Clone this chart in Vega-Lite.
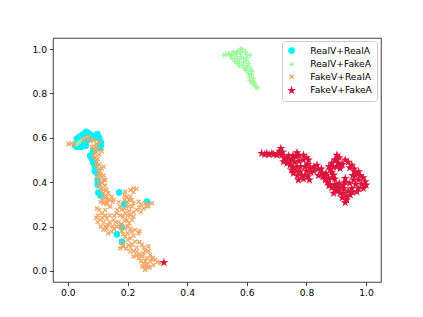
{"$schema":"https://vega.github.io/schema/vega-lite/v6.json","width":328,"height":244,"autosize":"none","padding":{"left":53,"top":38,"right":42,"bottom":35},"background":"white",
"config":{"view":{"stroke":"#000","strokeWidth":0.75},"font":"DejaVu Sans"},
"data":{"values":[
{"s":"RealV+RealA","x":0.061,"y":0.627},{"s":"RealV+RealA","x":0.039,"y":0.605},{"s":"RealV+RealA","x":0.099,"y":0.617},{"s":"RealV+RealA","x":0.05,"y":0.615},{"s":"RealV+RealA","x":0.08,"y":0.61},{"s":"RealV+RealA","x":0.024,"y":0.567},{"s":"RealV+RealA","x":0.045,"y":0.57},{"s":"RealV+RealA","x":0.06,"y":0.58},{"s":"RealV+RealA","x":0.106,"y":0.553},{"s":"RealV+RealA","x":0.08,"y":0.508},{"s":"RealV+RealA","x":0.085,"y":0.54},{"s":"RealV+RealA","x":0.097,"y":0.44},{"s":"RealV+RealA","x":0.172,"y":0.354},{"s":"RealV+RealA","x":0.265,"y":0.312},{"s":"RealV+RealA","x":0.164,"y":0.165},{"s":"RealV+RealA","x":0.181,"y":0.197},{"s":"RealV+RealA","x":0.181,"y":0.132},{"s":"RealV+RealA","x":0.102,"y":0.353},{"s":"RealV+RealA","x":0.189,"y":0.302},{"s":"RealV+RealA","x":0.03,"y":0.595},{"s":"RealV+RealA","x":0.07,"y":0.62},{"s":"RealV+RealA","x":0.09,"y":0.6},{"s":"RealV+RealA","x":0.105,"y":0.6},{"s":"RealV+RealA","x":0.11,"y":0.58},{"s":"RealV+RealA","x":0.11,"y":0.565},{"s":"RealV+RealA","x":0.03,"y":0.56},{"s":"RealV+RealA","x":0.045,"y":0.56},{"s":"RealV+RealA","x":0.06,"y":0.565},{"s":"RealV+RealA","x":0.075,"y":0.595},{"s":"RealV+RealA","x":0.075,"y":0.52},{"s":"RealV+RealA","x":0.085,"y":0.49},{"s":"RealV+RealA","x":0.09,"y":0.475},{"s":"RealV+RealA","x":0.09,"y":0.45},{"s":"RealV+RealA","x":0.1,"y":0.41},{"s":"RealV+RealA","x":0.1,"y":0.39},{"s":"RealV+RealA","x":0.11,"y":0.34},
{"s":"RealV+FakeA","x":0.522,"y":0.973},{"s":"RealV+FakeA","x":0.539,"y":0.98},{"s":"RealV+FakeA","x":0.555,"y":0.988},{"s":"RealV+FakeA","x":0.578,"y":1.0},{"s":"RealV+FakeA","x":0.595,"y":0.988},{"s":"RealV+FakeA","x":0.611,"y":0.973},{"s":"RealV+FakeA","x":0.567,"y":0.965},{"s":"RealV+FakeA","x":0.589,"y":0.958},{"s":"RealV+FakeA","x":0.55,"y":0.958},{"s":"RealV+FakeA","x":0.567,"y":0.935},{"s":"RealV+FakeA","x":0.583,"y":0.928},{"s":"RealV+FakeA","x":0.606,"y":0.935},{"s":"RealV+FakeA","x":0.6,"y":0.905},{"s":"RealV+FakeA","x":0.617,"y":0.898},{"s":"RealV+FakeA","x":0.609,"y":0.875},{"s":"RealV+FakeA","x":0.622,"y":0.868},{"s":"RealV+FakeA","x":0.617,"y":0.845},{"s":"RealV+FakeA","x":0.628,"y":0.838},{"s":"RealV+FakeA","x":0.636,"y":0.825},{"s":"RealV+FakeA","x":0.574,"y":0.95},{"s":"RealV+FakeA","x":0.578,"y":0.98},{"s":"RealV+FakeA","x":0.597,"y":0.948},{"s":"RealV+FakeA","x":0.59,"y":0.915},{"s":"RealV+FakeA","x":0.035,"y":0.578},{"s":"RealV+FakeA","x":0.042,"y":0.585},{"s":"RealV+FakeA","x":0.03,"y":0.572},{"s":"RealV+FakeA","x":0.53,"y":0.975},{"s":"RealV+FakeA","x":0.545,"y":0.97},{"s":"RealV+FakeA","x":0.56,"y":0.975},{"s":"RealV+FakeA","x":0.57,"y":0.99},{"s":"RealV+FakeA","x":0.585,"y":0.99},{"s":"RealV+FakeA","x":0.6,"y":0.975},{"s":"RealV+FakeA","x":0.56,"y":0.955},{"s":"RealV+FakeA","x":0.58,"y":0.965},{"s":"RealV+FakeA","x":0.6,"y":0.96},{"s":"RealV+FakeA","x":0.56,"y":0.945},{"s":"RealV+FakeA","x":0.575,"y":0.94},{"s":"RealV+FakeA","x":0.59,"y":0.94},{"s":"RealV+FakeA","x":0.6,"y":0.925},{"s":"RealV+FakeA","x":0.575,"y":0.925},{"s":"RealV+FakeA","x":0.61,"y":0.915},{"s":"RealV+FakeA","x":0.595,"y":0.905},{"s":"RealV+FakeA","x":0.605,"y":0.89},{"s":"RealV+FakeA","x":0.615,"y":0.885},{"s":"RealV+FakeA","x":0.61,"y":0.86},{"s":"RealV+FakeA","x":0.62,"y":0.855},{"s":"RealV+FakeA","x":0.625,"y":0.85},{"s":"RealV+FakeA","x":0.63,"y":0.83},{"s":"RealV+FakeA","x":0.615,"y":0.905},{"s":"RealV+FakeA","x":0.565,"y":0.985},{"s":"RealV+FakeA","x":0.55,"y":0.975},{"s":"RealV+FakeA","x":0.585,"y":1.0},
{"s":"FakeV+RealA","x":0.002,"y":0.572},{"s":"FakeV+RealA","x":0.052,"y":0.59},{"s":"FakeV+RealA","x":0.069,"y":0.605},{"s":"FakeV+RealA","x":0.086,"y":0.59},{"s":"FakeV+RealA","x":0.103,"y":0.582},{"s":"FakeV+RealA","x":0.08,"y":0.56},{"s":"FakeV+RealA","x":0.091,"y":0.545},{"s":"FakeV+RealA","x":0.114,"y":0.54},{"s":"FakeV+RealA","x":0.086,"y":0.522},{"s":"FakeV+RealA","x":0.097,"y":0.492},{"s":"FakeV+RealA","x":0.114,"y":0.462},{"s":"FakeV+RealA","x":0.102,"y":0.447},{"s":"FakeV+RealA","x":0.097,"y":0.425},{"s":"FakeV+RealA","x":0.125,"y":0.41},{"s":"FakeV+RealA","x":0.108,"y":0.387},{"s":"FakeV+RealA","x":0.13,"y":0.365},{"s":"FakeV+RealA","x":0.119,"y":0.35},{"s":"FakeV+RealA","x":0.147,"y":0.335},{"s":"FakeV+RealA","x":0.22,"y":0.372},{"s":"FakeV+RealA","x":0.192,"y":0.357},{"s":"FakeV+RealA","x":0.209,"y":0.335},{"s":"FakeV+RealA","x":0.108,"y":0.44},{"s":"FakeV+RealA","x":0.119,"y":0.41},{"s":"FakeV+RealA","x":0.103,"y":0.38},{"s":"FakeV+RealA","x":0.131,"y":0.32},{"s":"FakeV+RealA","x":0.153,"y":0.32},{"s":"FakeV+RealA","x":0.119,"y":0.305},{"s":"FakeV+RealA","x":0.142,"y":0.29},{"s":"FakeV+RealA","x":0.097,"y":0.282},{"s":"FakeV+RealA","x":0.164,"y":0.26},{"s":"FakeV+RealA","x":0.114,"y":0.26},{"s":"FakeV+RealA","x":0.108,"y":0.23},{"s":"FakeV+RealA","x":0.131,"y":0.237},{"s":"FakeV+RealA","x":0.153,"y":0.23},{"s":"FakeV+RealA","x":0.136,"y":0.207},{"s":"FakeV+RealA","x":0.164,"y":0.2},{"s":"FakeV+RealA","x":0.119,"y":0.185},{"s":"FakeV+RealA","x":0.147,"y":0.177},{"s":"FakeV+RealA","x":0.198,"y":0.335},{"s":"FakeV+RealA","x":0.214,"y":0.32},{"s":"FakeV+RealA","x":0.237,"y":0.312},{"s":"FakeV+RealA","x":0.259,"y":0.305},{"s":"FakeV+RealA","x":0.282,"y":0.305},{"s":"FakeV+RealA","x":0.203,"y":0.29},{"s":"FakeV+RealA","x":0.231,"y":0.275},{"s":"FakeV+RealA","x":0.254,"y":0.282},{"s":"FakeV+RealA","x":0.209,"y":0.252},{"s":"FakeV+RealA","x":0.192,"y":0.26},{"s":"FakeV+RealA","x":0.175,"y":0.29},{"s":"FakeV+RealA","x":0.198,"y":0.23},{"s":"FakeV+RealA","x":0.214,"y":0.23},{"s":"FakeV+RealA","x":0.192,"y":0.192},{"s":"FakeV+RealA","x":0.214,"y":0.177},{"s":"FakeV+RealA","x":0.237,"y":0.17},{"s":"FakeV+RealA","x":0.192,"y":0.155},{"s":"FakeV+RealA","x":0.209,"y":0.147},{"s":"FakeV+RealA","x":0.186,"y":0.11},{"s":"FakeV+RealA","x":0.203,"y":0.117},{"s":"FakeV+RealA","x":0.226,"y":0.132},{"s":"FakeV+RealA","x":0.248,"y":0.117},{"s":"FakeV+RealA","x":0.27,"y":0.11},{"s":"FakeV+RealA","x":0.209,"y":0.087},{"s":"FakeV+RealA","x":0.231,"y":0.087},{"s":"FakeV+RealA","x":0.254,"y":0.08},{"s":"FakeV+RealA","x":0.276,"y":0.072},{"s":"FakeV+RealA","x":0.293,"y":0.05},{"s":"FakeV+RealA","x":0.31,"y":0.035},{"s":"FakeV+RealA","x":0.254,"y":0.035},{"s":"FakeV+RealA","x":0.27,"y":0.02},{"s":"FakeV+RealA","x":0.259,"y":0.005},{"s":"FakeV+RealA","x":0.287,"y":0.027},{"s":"FakeV+RealA","x":0.22,"y":0.065},{"s":"FakeV+RealA","x":0.237,"y":0.057},{"s":"FakeV+RealA","x":0.276,"y":0.042},{"s":"FakeV+RealA","x":0.265,"y":0.057},{"s":"FakeV+RealA","x":0.175,"y":0.102},{"s":"FakeV+RealA","x":0.02,"y":0.57},{"s":"FakeV+RealA","x":0.012,"y":0.575},{"s":"FakeV+RealA","x":0.06,"y":0.598},{"s":"FakeV+RealA","x":0.075,"y":0.585},{"s":"FakeV+RealA","x":0.095,"y":0.572},{"s":"FakeV+RealA","x":0.09,"y":0.56},{"s":"FakeV+RealA","x":0.1,"y":0.55},{"s":"FakeV+RealA","x":0.092,"y":0.53},{"s":"FakeV+RealA","x":0.105,"y":0.525},{"s":"FakeV+RealA","x":0.09,"y":0.51},{"s":"FakeV+RealA","x":0.1,"y":0.505},{"s":"FakeV+RealA","x":0.105,"y":0.48},{"s":"FakeV+RealA","x":0.095,"y":0.475},{"s":"FakeV+RealA","x":0.12,"y":0.47},{"s":"FakeV+RealA","x":0.105,"y":0.46},{"s":"FakeV+RealA","x":0.11,"y":0.43},{"s":"FakeV+RealA","x":0.12,"y":0.43},{"s":"FakeV+RealA","x":0.105,"y":0.41},{"s":"FakeV+RealA","x":0.115,"y":0.395},{"s":"FakeV+RealA","x":0.125,"y":0.385},{"s":"FakeV+RealA","x":0.11,"y":0.37},{"s":"FakeV+RealA","x":0.12,"y":0.365},{"s":"FakeV+RealA","x":0.135,"y":0.35},{"s":"FakeV+RealA","x":0.13,"y":0.335},{"s":"FakeV+RealA","x":0.14,"y":0.32},{"s":"FakeV+RealA","x":0.125,"y":0.33},{"s":"FakeV+RealA","x":0.115,"y":0.32},{"s":"FakeV+RealA","x":0.11,"y":0.31},{"s":"FakeV+RealA","x":0.13,"y":0.31},{"s":"FakeV+RealA","x":0.15,"y":0.31},{"s":"FakeV+RealA","x":0.17,"y":0.31},{"s":"FakeV+RealA","x":0.13,"y":0.3},{"s":"FakeV+RealA","x":0.105,"y":0.275},{"s":"FakeV+RealA","x":0.125,"y":0.275},{"s":"FakeV+RealA","x":0.165,"y":0.275},{"s":"FakeV+RealA","x":0.18,"y":0.275},{"s":"FakeV+RealA","x":0.1,"y":0.25},{"s":"FakeV+RealA","x":0.125,"y":0.25},{"s":"FakeV+RealA","x":0.14,"y":0.25},{"s":"FakeV+RealA","x":0.155,"y":0.25},{"s":"FakeV+RealA","x":0.175,"y":0.25},{"s":"FakeV+RealA","x":0.095,"y":0.24},{"s":"FakeV+RealA","x":0.115,"y":0.24},{"s":"FakeV+RealA","x":0.1,"y":0.22},{"s":"FakeV+RealA","x":0.12,"y":0.22},{"s":"FakeV+RealA","x":0.14,"y":0.22},{"s":"FakeV+RealA","x":0.16,"y":0.22},{"s":"FakeV+RealA","x":0.17,"y":0.22},{"s":"FakeV+RealA","x":0.11,"y":0.2},{"s":"FakeV+RealA","x":0.125,"y":0.2},{"s":"FakeV+RealA","x":0.15,"y":0.2},{"s":"FakeV+RealA","x":0.175,"y":0.2},{"s":"FakeV+RealA","x":0.13,"y":0.19},{"s":"FakeV+RealA","x":0.155,"y":0.19},{"s":"FakeV+RealA","x":0.135,"y":0.17},{"s":"FakeV+RealA","x":0.21,"y":0.365},{"s":"FakeV+RealA","x":0.23,"y":0.37},{"s":"FakeV+RealA","x":0.22,"y":0.355},{"s":"FakeV+RealA","x":0.19,"y":0.34},{"s":"FakeV+RealA","x":0.205,"y":0.32},{"s":"FakeV+RealA","x":0.19,"y":0.32},{"s":"FakeV+RealA","x":0.2,"y":0.31},{"s":"FakeV+RealA","x":0.22,"y":0.305},{"s":"FakeV+RealA","x":0.245,"y":0.3},{"s":"FakeV+RealA","x":0.27,"y":0.295},{"s":"FakeV+RealA","x":0.215,"y":0.29},{"s":"FakeV+RealA","x":0.24,"y":0.285},{"s":"FakeV+RealA","x":0.19,"y":0.28},{"s":"FakeV+RealA","x":0.205,"y":0.27},{"s":"FakeV+RealA","x":0.22,"y":0.265},{"s":"FakeV+RealA","x":0.245,"y":0.265},{"s":"FakeV+RealA","x":0.265,"y":0.29},{"s":"FakeV+RealA","x":0.2,"y":0.25},{"s":"FakeV+RealA","x":0.22,"y":0.245},{"s":"FakeV+RealA","x":0.185,"y":0.245},{"s":"FakeV+RealA","x":0.19,"y":0.225},{"s":"FakeV+RealA","x":0.205,"y":0.215},{"s":"FakeV+RealA","x":0.18,"y":0.21},{"s":"FakeV+RealA","x":0.2,"y":0.2},{"s":"FakeV+RealA","x":0.21,"y":0.19},{"s":"FakeV+RealA","x":0.225,"y":0.185},{"s":"FakeV+RealA","x":0.24,"y":0.18},{"s":"FakeV+RealA","x":0.18,"y":0.18},{"s":"FakeV+RealA","x":0.2,"y":0.17},{"s":"FakeV+RealA","x":0.22,"y":0.16},{"s":"FakeV+RealA","x":0.185,"y":0.165},{"s":"FakeV+RealA","x":0.2,"y":0.14},{"s":"FakeV+RealA","x":0.18,"y":0.125},{"s":"FakeV+RealA","x":0.215,"y":0.12},{"s":"FakeV+RealA","x":0.195,"y":0.1},{"s":"FakeV+RealA","x":0.21,"y":0.105},{"s":"FakeV+RealA","x":0.23,"y":0.105},{"s":"FakeV+RealA","x":0.24,"y":0.13},{"s":"FakeV+RealA","x":0.255,"y":0.105},{"s":"FakeV+RealA","x":0.22,"y":0.09},{"s":"FakeV+RealA","x":0.24,"y":0.075},{"s":"FakeV+RealA","x":0.26,"y":0.09},{"s":"FakeV+RealA","x":0.25,"y":0.065},{"s":"FakeV+RealA","x":0.27,"y":0.09},{"s":"FakeV+RealA","x":0.285,"y":0.06},{"s":"FakeV+RealA","x":0.23,"y":0.07},{"s":"FakeV+RealA","x":0.26,"y":0.045},{"s":"FakeV+RealA","x":0.245,"y":0.045},{"s":"FakeV+RealA","x":0.265,"y":0.03},{"s":"FakeV+RealA","x":0.28,"y":0.055},{"s":"FakeV+RealA","x":0.3,"y":0.04},{"s":"FakeV+RealA","x":0.275,"y":0.015},{"s":"FakeV+RealA","x":0.25,"y":0.02},{"s":"FakeV+RealA","x":0.26,"y":0.015},
{"s":"FakeV+FakeA","x":0.322,"y":0.038},{"s":"FakeV+FakeA","x":0.65,"y":0.53},{"s":"FakeV+FakeA","x":0.667,"y":0.53},{"s":"FakeV+FakeA","x":0.684,"y":0.53},{"s":"FakeV+FakeA","x":0.701,"y":0.522},{"s":"FakeV+FakeA","x":0.714,"y":0.552},{"s":"FakeV+FakeA","x":0.717,"y":0.522},{"s":"FakeV+FakeA","x":0.734,"y":0.507},{"s":"FakeV+FakeA","x":0.751,"y":0.507},{"s":"FakeV+FakeA","x":0.768,"y":0.533},{"s":"FakeV+FakeA","x":0.79,"y":0.522},{"s":"FakeV+FakeA","x":0.807,"y":0.5},{"s":"FakeV+FakeA","x":0.723,"y":0.492},{"s":"FakeV+FakeA","x":0.745,"y":0.477},{"s":"FakeV+FakeA","x":0.768,"y":0.47},{"s":"FakeV+FakeA","x":0.756,"y":0.44},{"s":"FakeV+FakeA","x":0.779,"y":0.447},{"s":"FakeV+FakeA","x":0.796,"y":0.432},{"s":"FakeV+FakeA","x":0.81,"y":0.41},{"s":"FakeV+FakeA","x":0.773,"y":0.41},{"s":"FakeV+FakeA","x":0.812,"y":0.462},{"s":"FakeV+FakeA","x":0.835,"y":0.477},{"s":"FakeV+FakeA","x":0.852,"y":0.44},{"s":"FakeV+FakeA","x":0.863,"y":0.41},{"s":"FakeV+FakeA","x":0.88,"y":0.387},{"s":"FakeV+FakeA","x":0.902,"y":0.522},{"s":"FakeV+FakeA","x":0.885,"y":0.485},{"s":"FakeV+FakeA","x":0.908,"y":0.485},{"s":"FakeV+FakeA","x":0.93,"y":0.5},{"s":"FakeV+FakeA","x":0.952,"y":0.477},{"s":"FakeV+FakeA","x":0.975,"y":0.447},{"s":"FakeV+FakeA","x":0.997,"y":0.402},{"s":"FakeV+FakeA","x":1.0,"y":0.387},{"s":"FakeV+FakeA","x":0.991,"y":0.372},{"s":"FakeV+FakeA","x":0.969,"y":0.357},{"s":"FakeV+FakeA","x":0.947,"y":0.342},{"s":"FakeV+FakeA","x":0.93,"y":0.308},{"s":"FakeV+FakeA","x":0.913,"y":0.35},{"s":"FakeV+FakeA","x":0.891,"y":0.35},{"s":"FakeV+FakeA","x":0.874,"y":0.417},{"s":"FakeV+FakeA","x":0.88,"y":0.455},{"s":"FakeV+FakeA","x":0.958,"y":0.41},{"s":"FakeV+FakeA","x":0.975,"y":0.41},{"s":"FakeV+FakeA","x":0.952,"y":0.372},{"s":"FakeV+FakeA","x":0.924,"y":0.387},{"s":"FakeV+FakeA","x":0.902,"y":0.38},{"s":"FakeV+FakeA","x":0.935,"y":0.335},{"s":"FakeV+FakeA","x":0.891,"y":0.432},{"s":"FakeV+FakeA","x":0.93,"y":0.417},{"s":"FakeV+FakeA","x":0.913,"y":0.462},{"s":"FakeV+FakeA","x":0.963,"y":0.447},{"s":"FakeV+FakeA","x":0.66,"y":0.525},{"s":"FakeV+FakeA","x":0.675,"y":0.525},{"s":"FakeV+FakeA","x":0.69,"y":0.525},{"s":"FakeV+FakeA","x":0.705,"y":0.53},{"s":"FakeV+FakeA","x":0.71,"y":0.54},{"s":"FakeV+FakeA","x":0.72,"y":0.535},{"s":"FakeV+FakeA","x":0.725,"y":0.51},{"s":"FakeV+FakeA","x":0.74,"y":0.52},{"s":"FakeV+FakeA","x":0.755,"y":0.52},{"s":"FakeV+FakeA","x":0.775,"y":0.52},{"s":"FakeV+FakeA","x":0.765,"y":0.515},{"s":"FakeV+FakeA","x":0.73,"y":0.5},{"s":"FakeV+FakeA","x":0.745,"y":0.495},{"s":"FakeV+FakeA","x":0.76,"y":0.49},{"s":"FakeV+FakeA","x":0.775,"y":0.495},{"s":"FakeV+FakeA","x":0.79,"y":0.5},{"s":"FakeV+FakeA","x":0.8,"y":0.51},{"s":"FakeV+FakeA","x":0.735,"y":0.485},{"s":"FakeV+FakeA","x":0.755,"y":0.465},{"s":"FakeV+FakeA","x":0.78,"y":0.47},{"s":"FakeV+FakeA","x":0.795,"y":0.47},{"s":"FakeV+FakeA","x":0.805,"y":0.48},{"s":"FakeV+FakeA","x":0.75,"y":0.455},{"s":"FakeV+FakeA","x":0.765,"y":0.45},{"s":"FakeV+FakeA","x":0.77,"y":0.43},{"s":"FakeV+FakeA","x":0.785,"y":0.43},{"s":"FakeV+FakeA","x":0.8,"y":0.45},{"s":"FakeV+FakeA","x":0.815,"y":0.445},{"s":"FakeV+FakeA","x":0.825,"y":0.47},{"s":"FakeV+FakeA","x":0.79,"y":0.415},{"s":"FakeV+FakeA","x":0.805,"y":0.425},{"s":"FakeV+FakeA","x":0.825,"y":0.45},{"s":"FakeV+FakeA","x":0.84,"y":0.46},{"s":"FakeV+FakeA","x":0.84,"y":0.43},{"s":"FakeV+FakeA","x":0.85,"y":0.46},{"s":"FakeV+FakeA","x":0.855,"y":0.425},{"s":"FakeV+FakeA","x":0.865,"y":0.44},{"s":"FakeV+FakeA","x":0.87,"y":0.4},{"s":"FakeV+FakeA","x":0.875,"y":0.385},{"s":"FakeV+FakeA","x":0.885,"y":0.375},{"s":"FakeV+FakeA","x":0.895,"y":0.365},{"s":"FakeV+FakeA","x":0.905,"y":0.36},{"s":"FakeV+FakeA","x":0.865,"y":0.43},{"s":"FakeV+FakeA","x":0.885,"y":0.42},{"s":"FakeV+FakeA","x":0.875,"y":0.47},{"s":"FakeV+FakeA","x":0.89,"y":0.47},{"s":"FakeV+FakeA","x":0.895,"y":0.5},{"s":"FakeV+FakeA","x":0.9,"y":0.5},{"s":"FakeV+FakeA","x":0.91,"y":0.51},{"s":"FakeV+FakeA","x":0.92,"y":0.48},{"s":"FakeV+FakeA","x":0.94,"y":0.49},{"s":"FakeV+FakeA","x":0.96,"y":0.46},{"s":"FakeV+FakeA","x":0.945,"y":0.465},{"s":"FakeV+FakeA","x":0.965,"y":0.43},{"s":"FakeV+FakeA","x":0.98,"y":0.43},{"s":"FakeV+FakeA","x":0.99,"y":0.42},{"s":"FakeV+FakeA","x":0.985,"y":0.39},{"s":"FakeV+FakeA","x":0.965,"y":0.39},{"s":"FakeV+FakeA","x":0.975,"y":0.37},{"s":"FakeV+FakeA","x":0.955,"y":0.355},{"s":"FakeV+FakeA","x":0.94,"y":0.36},{"s":"FakeV+FakeA","x":0.925,"y":0.37},{"s":"FakeV+FakeA","x":0.91,"y":0.375},{"s":"FakeV+FakeA","x":0.895,"y":0.39},{"s":"FakeV+FakeA","x":0.91,"y":0.395},{"s":"FakeV+FakeA","x":0.93,"y":0.4},{"s":"FakeV+FakeA","x":0.945,"y":0.395},{"s":"FakeV+FakeA","x":0.955,"y":0.43},{"s":"FakeV+FakeA","x":0.925,"y":0.35},{"s":"FakeV+FakeA","x":0.935,"y":0.32},{"s":"FakeV+FakeA","x":0.92,"y":0.33},{"s":"FakeV+FakeA","x":0.895,"y":0.415},{"s":"FakeV+FakeA","x":0.885,"y":0.445},{"s":"FakeV+FakeA","x":0.915,"y":0.475},{"s":"FakeV+FakeA","x":0.9,"y":0.47}
]},
"mark":{"type":"point","filled":true,"strokeWidth":1.3,"opacity":1,"size":16},
"encoding":{
"x":{"field":"x","type":"quantitative","title":null,"scale":{"domain":[-0.05,1.05],"nice":false,"zero":false},"axis":{"values":[0,0.2,0.4,0.6,0.8,1],"format":".1f","grid":false,"domain":false,"tickColor":"#000","tickSize":3.5,"tickWidth":0.75,"labelColor":"#000","labelFontSize":9.2,"labelPadding":3,"labelFont":"DejaVu Sans"}},
"y":{"field":"y","type":"quantitative","title":null,"scale":{"domain":[-0.05,1.05],"nice":false,"zero":false},"axis":{"values":[0,0.2,0.4,0.6,0.8,1],"format":".1f","grid":false,"domain":false,"tickColor":"#000","tickSize":3.5,"tickWidth":0.75,"labelColor":"#000","labelFontSize":9.2,"labelPadding":3,"labelFont":"DejaVu Sans"}},
"color":{"field":"s","type":"nominal","title":null,"scale":{"domain":["RealV+RealA","RealV+FakeA","FakeV+RealA","FakeV+FakeA"],"range":["#00f0ff","#98fb98","#f4a460","#dc143c"]},"legend":{"orient":"none","legendX":229,"legendY":3,"fillColor":"#ffffffcc","strokeColor":"#ccc","cornerRadius":3,"padding":5,"labelFontSize":9.2,"labelFont":"DejaVu Sans","labelColor":"#000","labelOffset":14,"symbolSize":16,"rowPadding":2.6,"symbolStrokeWidth":1.3}},
"stroke":{"field":"s","type":"nominal","title":null,"scale":{"domain":["RealV+RealA","RealV+FakeA","FakeV+RealA","FakeV+FakeA"],"range":["#00f0ff","#98fb98","#f4a460","#dc143c"]}},
"shape":{"field":"s","type":"nominal","title":null,"scale":{"domain":["RealV+RealA","RealV+FakeA","FakeV+RealA","FakeV+FakeA"],"range":["M-1.35,0A1.35,1.35 0 1,1 1.35,0A1.35,1.35 0 1,1 -1.35,0Z","M-1.3,0H1.3M0,-1.3V1.3","M-1,-1L1,1M-1,1L1,-1","M0,-1.3L0.3,-0.41L1.24,-0.41L0.48,0.15L0.76,1.04L0,0.5L-0.76,1.04L-0.48,0.15L-1.24,-0.41L-0.3,-0.41Z"]}}
}}
